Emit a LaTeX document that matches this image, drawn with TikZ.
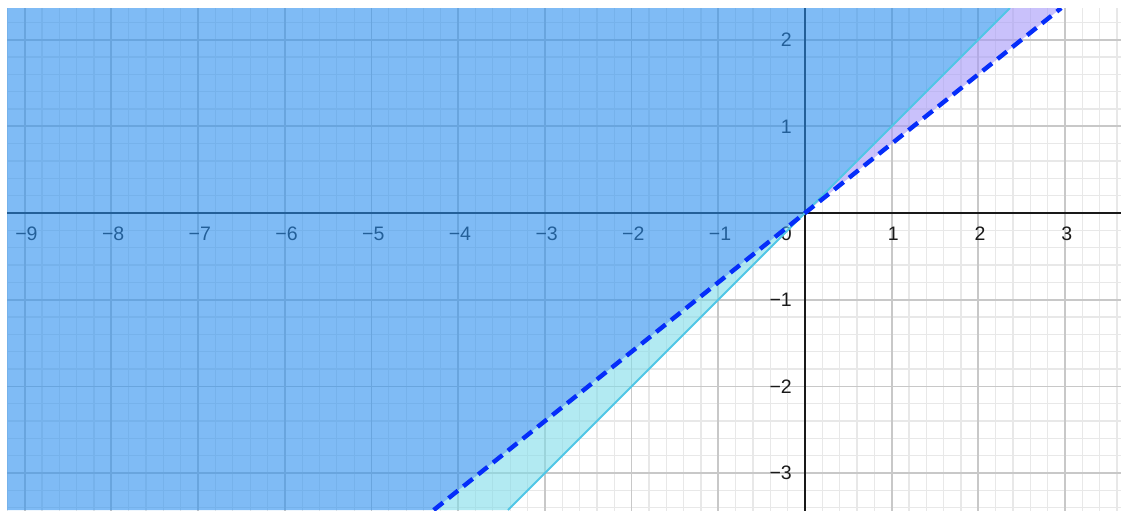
\documentclass[tikz,border=0pt]{standalone}
\usepackage{fontspec}
\setmainfont{Liberation Sans}
\definecolor{minorgrid}{RGB}{232,232,232}
\definecolor{majorgrid}{RGB}{200,200,200}
\definecolor{axiscol}{RGB}{25,25,25}
\definecolor{overlapfill}{RGB}{42,142,238}
\definecolor{cyanfill}{RGB}{127,220,233}
\definecolor{purplefill}{RGB}{165,152,248}
\definecolor{cyanline}{RGB}{80,198,230}
\definecolor{dashblue}{RGB}{5,45,250}
\tikzset{
  minorline/.style={draw=minorgrid, line width=1.2bp},
  majorline/.style={draw=majorgrid, line width=1.8bp},
  axisline/.style={draw=axiscol, line width=1.8bp},
  ticklab/.style={inner sep=0pt, text=black!90, font=\fontsize{19.5bp}{21bp}\selectfont},
  regionfill/.style={fill opacity=0.6, draw=none},
  solidcyan/.style={draw=cyanline, line width=1.8bp},
  dashline/.style={draw=dashblue, line width=4.4bp, dash pattern=on 12bp off 7bp}
}
\begin{document}
\begin{tikzpicture}[x=86.7bp,y=86.7bp]
\useasboundingbox (-9.285,-3.426) rectangle (3.645,2.457);
\coordinate (O) at (0,0);
\coordinate (TL) at (-9.204,2.364);
\coordinate (BL) at (-9.204,-3.426);
\coordinate (cBot) at (-3.426,-3.426);
\coordinate (cTop) at (2.364,2.364);
\coordinate (dBot) at (-4.2825,-3.426);
\coordinate (dTop) at (2.955,2.364);
\begin{scope}
\clip (-9.204,-3.426) rectangle (3.645,2.364);
% grid
\draw[minorline] (-9.6,-3.8) grid[step=0.2] (3.8,2.6);
\draw[majorline] (-9.6,-3.8) grid[step=1] (3.8,2.6);
% axes
\coordinate (xa) at (-9.3,0);
\coordinate (xb) at (3.7,0);
\coordinate (ya) at (0,-3.5);
\coordinate (yb) at (0,2.5);
\draw[axisline] (xa) -- (xb);
\draw[axisline] (ya) -- (yb);
% x labels
\foreach \n/\t in {-9/−9,-8/−8,-7/−7,-6/−6,-5/−5,-4/−4,-3/−3,-2/−2,-1/−1,1/1,2/2,3/3}
  \node[ticklab, anchor=center] (xl\n) at (\n+0.02,-0.235) {\t};
% y labels
\foreach \n/\t in {-3/−3,-2/−2,-1/−1,1/1,2/2}
  \node[ticklab, anchor=east] (yl\n) at (-0.15,\n) {\t};
\node[ticklab, anchor=east] (zero) at (-0.15,-0.235) {0};
% regions
\fill[regionfill, fill=overlapfill] (TL) -- (BL) -- (dBot) -- (O) -- (cTop) -- cycle;
\fill[regionfill, fill=cyanfill] (dBot) -- (O) -- (cBot) -- cycle;
\fill[regionfill, fill=purplefill] (O) -- (cTop) -- (dTop) -- cycle;
% boundary lines
\draw[solidcyan] (cBot) -- (cTop);
\draw[dashline] (dBot) -- (dTop);
\end{scope}
\end{tikzpicture}
\end{document}
